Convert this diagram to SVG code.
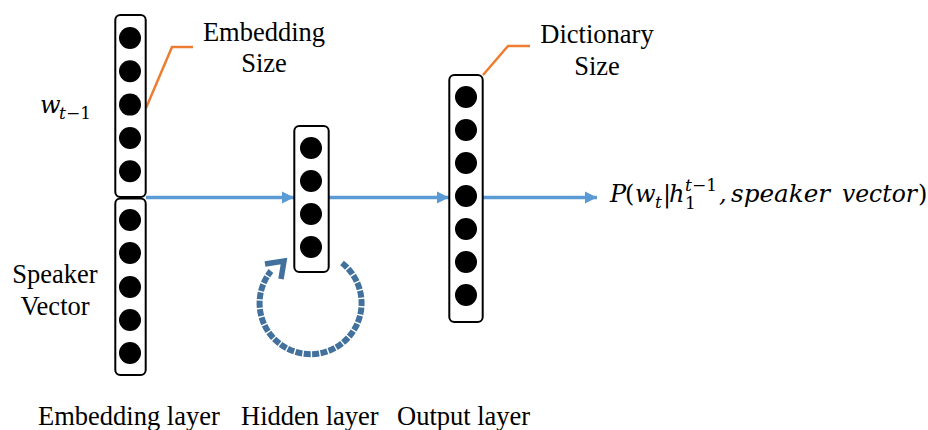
<svg xmlns="http://www.w3.org/2000/svg" width="928" height="430" viewBox="0 0 928 430">
<style>
.box{fill:#fff;stroke:#000;stroke-width:2}
.dot{fill:#000}
.lbl{font-family:"Liberation Serif","Times New Roman",serif;font-size:26.5px;fill:#000}
.math{font-family:"DejaVu Serif","Liberation Serif",serif;font-size:24px;fill:#000}
.it{font-style:italic}
.flow{stroke:#5B9BD5;stroke-width:3.5;fill:none}
.call{stroke:#ED7D31;stroke-width:2.5;fill:none}
.loop{stroke:#41719C;stroke-width:6;fill:none;stroke-dasharray:7 1.4}
</style>
<defs>
<marker id="ah" markerUnits="userSpaceOnUse" markerWidth="13" markerHeight="13" refX="12" refY="6.5" orient="auto">
<path d="M0,0.5 L12,6.5 L0,12.5 z" fill="#5B9BD5"/>
</marker>
</defs>
<g id="connectors">
<line class="flow" x1="146" y1="197.5" x2="294" y2="197.5" marker-end="url(#ah)"/>
<line class="flow" x1="329" y1="197.5" x2="449" y2="197.5" marker-end="url(#ah)"/>
<line class="flow" x1="483" y1="197.5" x2="597" y2="197.5" marker-end="url(#ah)"/>
<polyline class="call" points="146,108 172,47 193,47"/>
<polyline class="call" points="483,75 508,46 530,46"/>
<path class="loop" d="M342,263 A51,51 0 1 1 271,271"/>
<polyline points="265,264 284,261 281,279" fill="none" stroke="#41719C" stroke-width="5.5" stroke-linejoin="miter"/>
</g>
<g id="embedding-word">
<rect class="box" x="115.3" y="15" width="30.4" height="182" rx="5"/>
<circle class="dot" cx="130" cy="38" r="11"/>
<circle class="dot" cx="130" cy="71.3" r="11"/>
<circle class="dot" cx="130" cy="104.6" r="11"/>
<circle class="dot" cx="130" cy="138" r="11"/>
<circle class="dot" cx="130" cy="171.3" r="11"/>
</g>
<g id="embedding-speaker">
<rect class="box" x="115.3" y="198.5" width="30.4" height="176.5" rx="5"/>
<circle class="dot" cx="130" cy="220" r="11"/>
<circle class="dot" cx="130" cy="253" r="11"/>
<circle class="dot" cx="130" cy="287" r="11"/>
<circle class="dot" cx="130" cy="320" r="11"/>
<circle class="dot" cx="130" cy="353" r="11"/>
</g>
<g id="hidden">
<rect class="box" x="294.3" y="126" width="34.4" height="146" rx="5"/>
<circle class="dot" cx="311" cy="148" r="11"/>
<circle class="dot" cx="311" cy="181" r="11"/>
<circle class="dot" cx="311" cy="214" r="11"/>
<circle class="dot" cx="311" cy="247" r="11"/>
</g>
<g id="output">
<rect class="box" x="449.3" y="75" width="33.4" height="247" rx="5"/>
<circle class="dot" cx="466" cy="97" r="11"/>
<circle class="dot" cx="466" cy="130" r="11"/>
<circle class="dot" cx="466" cy="163" r="11"/>
<circle class="dot" cx="466" cy="196" r="11"/>
<circle class="dot" cx="466" cy="229" r="11"/>
<circle class="dot" cx="466" cy="262" r="11"/>
<circle class="dot" cx="466" cy="295" r="11"/>
</g>
<g id="labels">
<text class="lbl" x="264" y="41" text-anchor="middle">Embedding</text>
<text class="lbl" x="264" y="72" text-anchor="middle">Size</text>
<text class="lbl" x="597" y="43" text-anchor="middle">Dictionary</text>
<text class="lbl" x="597" y="75" text-anchor="middle">Size</text>
<text class="lbl" x="55" y="283" text-anchor="middle">Speaker</text>
<text class="lbl" x="55" y="315" text-anchor="middle">Vector</text>
<text class="math"><tspan class="it" x="40" y="113" font-size="24">w</tspan><tspan class="it" x="59" y="119" font-size="17">t</tspan><tspan x="66" y="119" font-size="17">−1</tspan></text>
<text class="math"><tspan class="it" x="610" y="202">P</tspan><tspan x="625" y="202">(</tspan><tspan class="it" x="635" y="202">w</tspan><tspan class="it" x="655" y="208" font-size="17">t</tspan><tspan x="663" y="202">|</tspan><tspan class="it" x="669" y="202">h</tspan><tspan class="it" x="685" y="191" font-size="17">t</tspan><tspan x="692" y="191" font-size="17">−1</tspan><tspan x="685" y="209" font-size="17">1</tspan><tspan class="it" x="719" y="202">,</tspan><tspan class="it" x="731" y="202" textLength="99" lengthAdjust="spacingAndGlyphs">speaker</tspan><tspan class="it" x="842" y="202" textLength="75" lengthAdjust="spacingAndGlyphs">vector</tspan><tspan x="918" y="202">)</tspan></text>
<text class="lbl" x="38" y="425">Embedding layer</text>
<text class="lbl" x="241" y="425">Hidden layer</text>
<text class="lbl" x="397" y="425">Output layer</text>
</g>
</svg>
